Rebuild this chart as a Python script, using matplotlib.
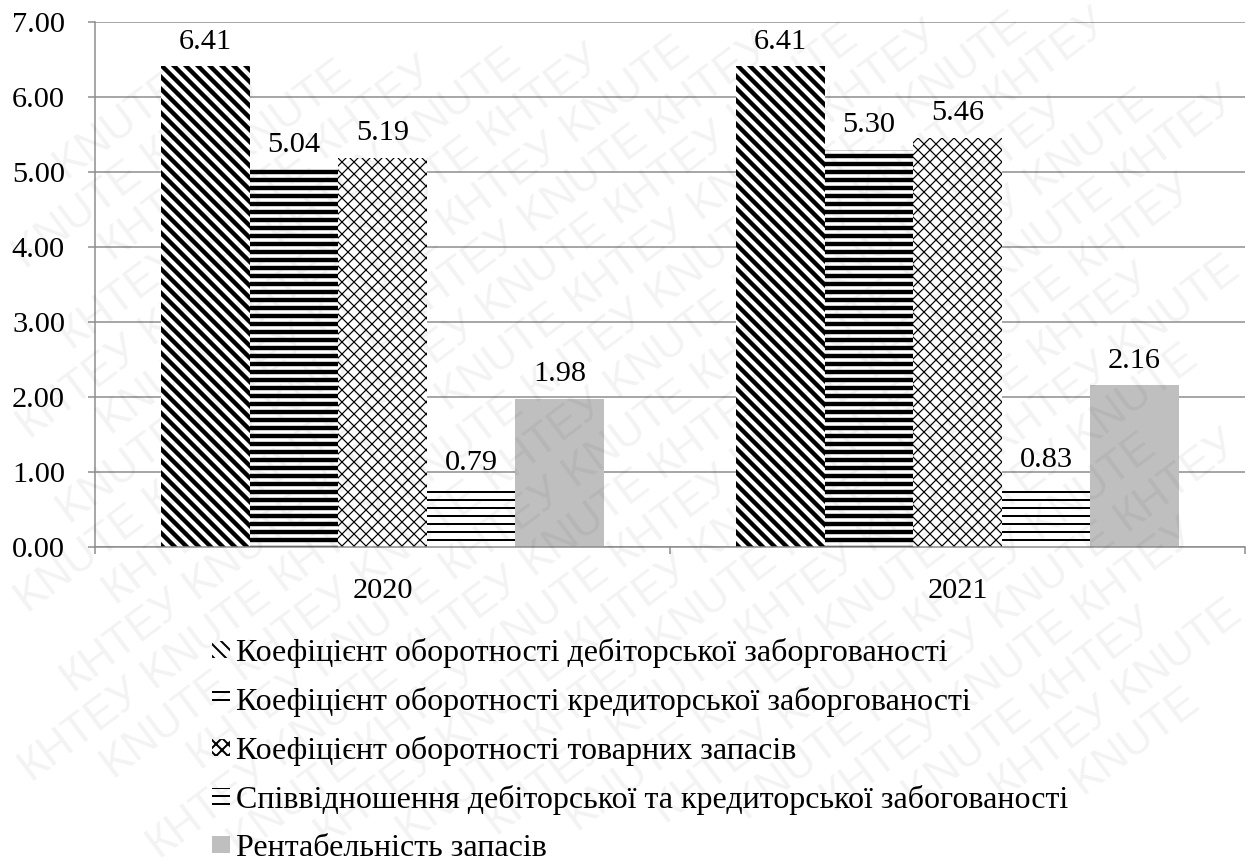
import matplotlib
matplotlib.use("Agg")
import matplotlib.pyplot as plt
import numpy as np
from matplotlib.ticker import FormatStrFormatter

# ---- data -------------------------------------------------------------
years = ["2020", "2021"]
series_names = [
    "Коефіцієнт оборотності дебіторської заборгованості",
    "Коефіцієнт оборотності кредиторської заборгованості",
    "Коефіцієнт оборотності товарних запасів",
    "Співвідношення дебіторської та кредиторської забогованості",
    "Рентабельність запасів",
]
receivable_turnover = [6.41, 6.41]
payable_turnover = [5.04, 5.30]
inventory_turnover = [5.19, 5.46]
receivable_payable_ratio = [0.79, 0.83]
inventory_profitability = [1.98, 2.16]
y_ticks = [0, 1, 2, 3, 4, 5, 6, 7]
watermark_words = ["KNUTE", "КНТЕУ"]

series_values = [
    receivable_turnover,
    payable_turnover,
    inventory_turnover,
    receivable_payable_ratio,
    inventory_profitability,
]

# ---- styling ------------------------------------------------------------
DPI = 144
W, H = 1254, 866
FS = 15.2
FS_LEGEND = 16
GRID = "#8c8c8c"

plt.rcParams["font.family"] = ["Liberation Serif", "DejaVu Serif"]

# (hatch, hatch linewidth, face colour)
bar_styles = [
    ("\\\\\\\\", 2.2, "white"),
    ("---", 2.2, "white"),
    ("xxxx", 0.6, "white"),
    ("---", 1.0, "white"),
    (None, 1.0, "#bfbfbf"),
]

fig = plt.figure(figsize=(W / DPI, H / DPI), dpi=DPI)
ax = fig.add_axes([95 / W, (H - 547) / H, 1150 / W, 525 / H])

x = np.arange(len(years))
bar_w = 0.154
n = len(series_values)

for i, (vals, name, (hatch, hlw, face)) in enumerate(
        zip(series_values, series_names, bar_styles)):
    offset = (i - (n - 1) / 2) * bar_w
    with plt.rc_context({"hatch.linewidth": hlw}):
        bars = ax.bar(x + offset, vals, bar_w, color=face, edgecolor="black",
                      linewidth=0, hatch=hatch, label=name, zorder=2)
    for p in bars:
        if hasattr(p, "set_hatch_linewidth"):
            p.set_hatch_linewidth(hlw)
    ax.bar_label(bars, fmt="%.2f", padding=5.75, fontsize=FS, zorder=3)

# ---- axes ---------------------------------------------------------------
ax.set_xlim(-0.5, len(years) - 0.5)
ax.set_ylim(0, 7)
ax.set_yticks(y_ticks)
ax.yaxis.set_major_formatter(FormatStrFormatter("%.2f"))
ax.grid(axis="y", color=GRID, linewidth=0.75, zorder=0)
ax.set_axisbelow(True)

for side in ("top", "right"):
    ax.spines[side].set_visible(False)
for side in ("left", "bottom"):
    ax.spines[side].set_color(GRID)
    ax.spines[side].set_linewidth(0.75)

ax.set_xticks(np.arange(len(years) + 1) - 0.5)
ax.set_xticklabels([])
ax.set_xticks(x, minor=True)
ax.set_xticklabels(years, minor=True)
ax.tick_params(axis="x", which="major", length=3.5, width=0.75, color=GRID,
               direction="out")
ax.tick_params(axis="x", which="minor", length=0, pad=15.5, labelsize=FS)
ax.tick_params(axis="y", length=3.5, width=0.75, color=GRID, direction="out",
               pad=11.5, labelsize=FS)

ax.legend(loc="upper left", bbox_to_anchor=(212 / W, 1 - 638 / H),
          bbox_transform=fig.transFigure, frameon=False, fontsize=FS_LEGEND,
          handlelength=0.56, handleheight=0.45, handletextpad=0.2,
          labelspacing=0.59, borderpad=0, borderaxespad=0)

# ---- diagonal watermark (whole words only) --------------------------------
wm_ax = fig.add_axes([0, 0, 1, 1], zorder=10)
wm_ax.set_xlim(0, W)
wm_ax.set_ylim(0, H)
wm_ax.axis("off")
wm_ax.patch.set_visible(False)

wm_font = dict(fontsize=22, family=["Liberation Sans", "DejaVu Sans"])
renderer = fig.canvas.get_renderer()
probe1 = wm_ax.text(0, 0, watermark_words[0], **wm_font)
probe3 = wm_ax.text(0, 0, " ".join(watermark_words + watermark_words[:1]),
                    **wm_font)
w1 = probe1.get_window_extent(renderer).width
w3 = probe3.get_window_extent(renderer).width
probe1.remove()
probe3.remove()
pitch = (w3 - w1) / 2

angle = 37
th = np.deg2rad(angle)
along = np.array([np.cos(th), np.sin(th)])
across = np.array([-np.sin(th), np.cos(th)])
spacing = 46
centre = np.array([W / 2, H / 2])

wm_texts = []
for k in range(-20, 21):
    base = centre + k * spacing * across + (k * 0.55 * pitch) * along
    for j in range(-16, 17):
        pos = base + j * pitch * along
        if not (-200 < pos[0] < W + 200 and -200 < pos[1] < H + 200):
            continue
        word = watermark_words[j % 2]
        t = wm_ax.text(pos[0], pos[1], word, rotation=angle,
                       rotation_mode="anchor", ha="center", va="center",
                       color="black", alpha=0.05, **wm_font)
        wm_texts.append(t)

for t in wm_texts:
    bb = t.get_window_extent(renderer)
    if bb.x0 < 0 or bb.y0 < 0 or bb.x1 > W or bb.y1 > H:
        t.remove()

fig.savefig("out.png", dpi=DPI)
